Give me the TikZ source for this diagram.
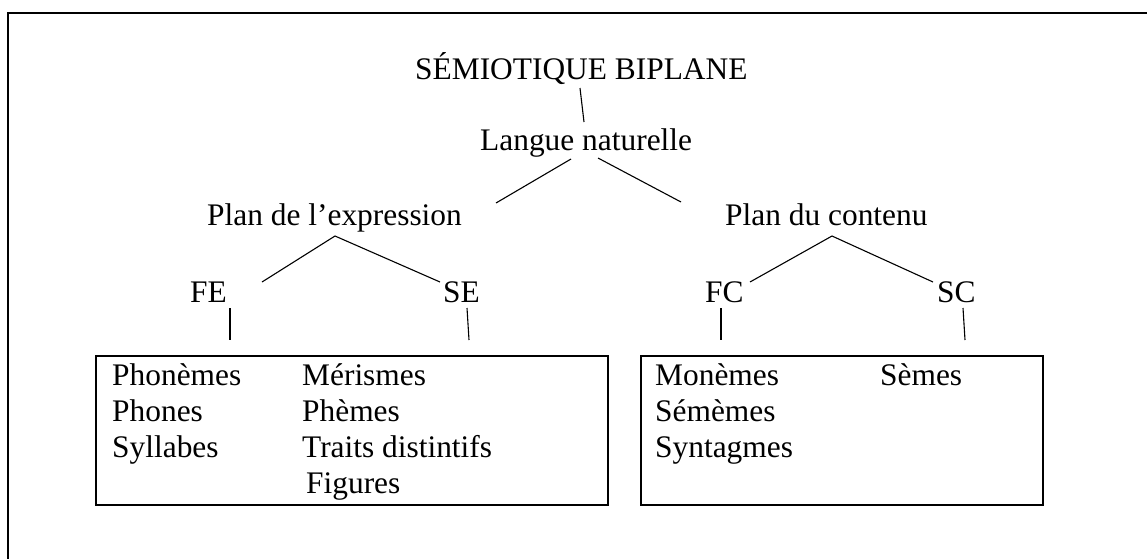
\documentclass[tikz,border=0pt]{standalone}
\usepackage{fontspec}
\setmainfont{Liberation Serif}
\begin{document}
\begin{tikzpicture}[x=1pt,y=-1pt,
  lbl/.style={anchor=base west,inner sep=0pt,font=\fontsize{31.4}{36}\selectfont},
  conn/.style={line width=1.1pt},
  frame/.style={line width=1.8pt}]
\useasboundingbox (0,0) rectangle (1147,558);
\fill[white] (0,0) rectangle (1147,558);
% outer frame (only top and left visible)
\coordinate (fa) at (8,600);
\coordinate (fb) at (8,13);
\coordinate (fc) at (1160,13);
\draw[frame] (fa) -- (fb) -- (fc);
% titles
\node[lbl] (sem) at (415,79) {SÉMIOTIQUE BIPLANE};
\node[lbl] (lang) at (480,150) {Langue naturelle};
\node[lbl] (pe) at (207,225) {Plan de l’expression};
\node[lbl] (pc) at (725,225) {Plan du contenu};
\node[lbl] (fe) at (190,302) {FE};
\node[lbl] (se) at (443,302) {SE};
\node[lbl] (fcn) at (705,302) {FC};
\node[lbl] (sc) at (937,302) {SC};
% connector end points
\coordinate (s1) at (580,88);  \coordinate (s2) at (584,122);
\coordinate (l1) at (571,159); \coordinate (l2) at (496,203);
\coordinate (l3) at (598,158); \coordinate (l4) at (681,202);
\coordinate (pa) at (335,236); \coordinate (pl) at (262,282); \coordinate (pr) at (440,282);
\coordinate (ca) at (832,236); \coordinate (cl) at (750,282); \coordinate (cr) at (933,282);
\coordinate (v1a) at (230,308); \coordinate (v1b) at (230,340);
\coordinate (v2a) at (467,308); \coordinate (v2b) at (469,340);
\coordinate (v3a) at (721,308); \coordinate (v3b) at (721,340);
\coordinate (v4a) at (963,308); \coordinate (v4b) at (965,340);
\draw[conn] (s1) -- (s2);
\draw[conn] (l1) -- (l2);
\draw[conn] (l3) -- (l4);
\draw[conn] (pl) -- (pa) -- (pr);
\draw[conn] (cl) -- (ca) -- (cr);
\draw[conn] (v1a) -- (v1b);
\draw[conn] (v2a) -- (v2b);
\draw[conn] (v3a) -- (v3b);
\draw[conn] (v4a) -- (v4b);
% boxes
\coordinate (b1a) at (96,356); \coordinate (b1b) at (608,505);
\coordinate (b2a) at (641,356); \coordinate (b2b) at (1043,505);
\draw[frame] (b1a) rectangle (b1b);
\draw[frame] (b2a) rectangle (b2b);
% left box text
\node[lbl] (t1) at (112,385) {Phonèmes};
\node[lbl] (t2) at (112,421) {Phones};
\node[lbl] (t3) at (112,457) {Syllabes};
\node[lbl] (t4) at (302,385) {Mérismes};
\node[lbl] (t5) at (302,421) {Phèmes};
\node[lbl] (t6) at (302,457) {Traits distintifs};
\node[lbl] (t7) at (306,493) {Figures};
% right box text
\node[lbl] (r1) at (655,385) {Monèmes};
\node[lbl] (r2) at (655,421) {Sémèmes};
\node[lbl] (r3) at (655,457) {Syntagmes};
\node[lbl] (r4) at (880,385) {Sèmes};
\end{tikzpicture}
\end{document}
